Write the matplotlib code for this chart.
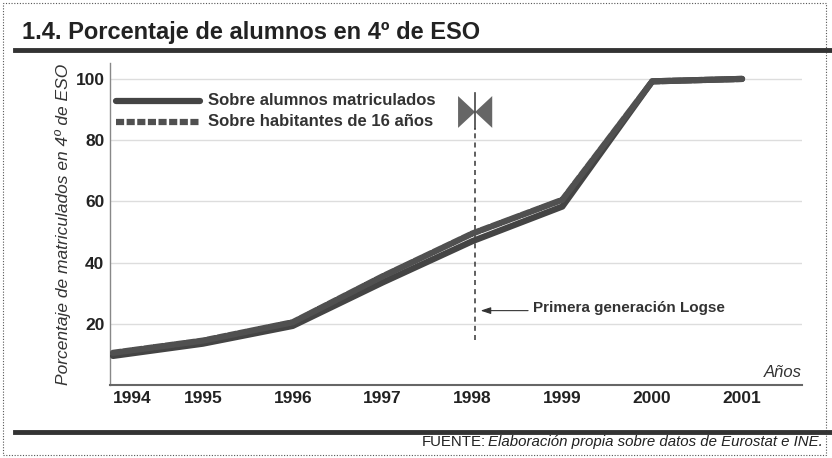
import matplotlib
matplotlib.use("Agg")
import matplotlib.pyplot as plt
from matplotlib.lines import Line2D
from matplotlib.patches import Rectangle
from matplotlib import font_manager

years = [1994, 1995, 1996, 1997, 1998, 1999, 2000, 2001]
matriculados = [9.5, 13.5, 19.3, 33.5, 47.0, 58.3, 99.2, 100.0]
habitantes = [10.5, 14.5, 20.5, 35.5, 49.5, 60.5, 99.2, 100.0]
yticks = [20, 40, 60, 80, 100]
legend_labels = ["Sobre alumnos matriculados", "Sobre habitantes de 16 años"]
title = "1.4. Porcentaje de alumnos en 4º de ESO"
ylabel = "Porcentaje de matriculados en 4º de ESO"
annot = "Primera generación Logse"
logse_year = 1998

names = {f.name for f in font_manager.fontManager.ttflist}
narrow = "Liberation Sans Narrow" if "Liberation Sans Narrow" in names else "Liberation Sans"
plt.rcParams['font.family'] = [narrow, 'DejaVu Sans']

W, H = 832, 458
fig = plt.figure(figsize=(W/100, H/100), dpi=100)

def fx(px):
    return px / W
def fy(py):
    return 1 - py / H

# dotted border
fig.add_artist(Rectangle((fx(3), fy(455)), fx(826) - fx(3), fy(3) - fy(455),
                         transform=fig.transFigure, fill=False,
                         ls=(0, (1, 1.5)), lw=0.8, ec="#555555"))

# title and rules
fig.text(fx(22), fy(33), title, fontsize=17, fontweight='bold', color="#222222",
         va='center', ha='left')
fig.add_artist(Line2D([fx(15), fx(832)], [fy(50), fy(50)], transform=fig.transFigure,
                      color="#333333", lw=3.5))
fig.add_artist(Line2D([fx(15), fx(832)], [fy(432), fy(432)], transform=fig.transFigure,
                      color="#333333", lw=3.5))
t_src = "Elaboración propia sobre datos de Eurostat e INE."
src = fig.text(fx(823), fy(442), t_src, fontsize=10.8, style='italic', color="#222222",
               ha='right', va='center')
fig.canvas.draw()
bb = src.get_window_extent()
fig.text(bb.x0 / W - 0.003, fy(442), "FUENTE:", fontsize=10.8, color="#222222",
         ha='right', va='center')

ax = fig.add_axes([fx(110), fy(385), fx(802) - fx(110), fy(63) - fy(385)])
ax.set_xlim(1993.967, 2001.667)
ax.set_ylim(0, 105.2)

for y in yticks:
    ax.axhline(y, color="#dddddd", lw=1.0, zorder=0)

ax.plot(years, matriculados, color="#444444", lw=4.5, solid_capstyle='round', zorder=3)
ax.plot(years, habitantes, color="#505050", lw=4.5, ls=(0, (1.3, 0.4)),
        dash_capstyle='round', zorder=4)

for s in ['top', 'right']:
    ax.spines[s].set_visible(False)
ax.spines['left'].set_color("#888888")
ax.spines['bottom'].set_color("#666666")
ax.spines['bottom'].set_linewidth(1.5)
ax.spines['left'].set_linewidth(1.0)

ax.set_yticks(yticks)
ax.set_yticklabels([str(v) for v in yticks], fontsize=12.5, fontweight='bold', color="#222222",
                   family='Liberation Sans')
ax.set_xticks(years)
ax.set_xticklabels([str(v) for v in years], fontsize=12.5, fontweight='bold', color="#222222",
                   family='Liberation Sans')
ax.tick_params(length=0, pad=4)
ax.get_xticklabels()[0].set_horizontalalignment('left')

ax.set_ylabel(ylabel, fontsize=12.5, style='italic', color="#333333", labelpad=3,
              family='Liberation Sans')
ax.text(1.0, 0.015, "Años", transform=ax.transAxes, ha='right', va='bottom',
        fontsize=12, style='italic', color="#333333", family='Liberation Sans')

# legend (manual)
ax.plot([1994.03, 1994.97], [92.8, 92.8], color="#444444", lw=4.5, zorder=3,
        solid_capstyle='round')
ax.plot([1994.03, 1994.97], [86.0, 86.0], color="#505050", lw=4.5, ls=(0, (1.3, 0.4)),
        zorder=3)
ax.text(1995.06, 92.8, legend_labels[0], fontsize=12, fontweight='bold', color="#333333",
        va='center', ha='left', family='Liberation Sans')
ax.text(1995.06, 86.0, legend_labels[1], fontsize=12, fontweight='bold', color="#333333",
        va='center', ha='left', family='Liberation Sans')

# vertical Logse line
bx = logse_year + 0.03
ax.plot([bx, bx], [14.7, 84], color="#444444", lw=1.2, ls=(0, (3, 2.5)), zorder=2)
# bowtie marker
ax.fill([bx - 0.19, bx, bx - 0.19], [94.4, 89.2, 84.0], color="#666666", zorder=5, lw=0)
ax.fill([bx + 0.19, bx, bx + 0.19], [94.4, 89.2, 84.0], color="#666666", zorder=5, lw=0)
ax.plot([bx, bx], [83.5, 95.5], color="#444444", lw=1.2, zorder=6)

ax.annotate("", xy=(bx + 0.03, 24.3), xytext=(1998.65, 24.3),
            arrowprops=dict(arrowstyle='-|>,head_length=0.6,head_width=0.2',
                            color="#333333", lw=0.8))
ax.text(1998.67, 25.0, annot, fontsize=11, fontweight='bold', color="#333333",
        va='center', ha='left')

fig.savefig("out.png", dpi=100)
